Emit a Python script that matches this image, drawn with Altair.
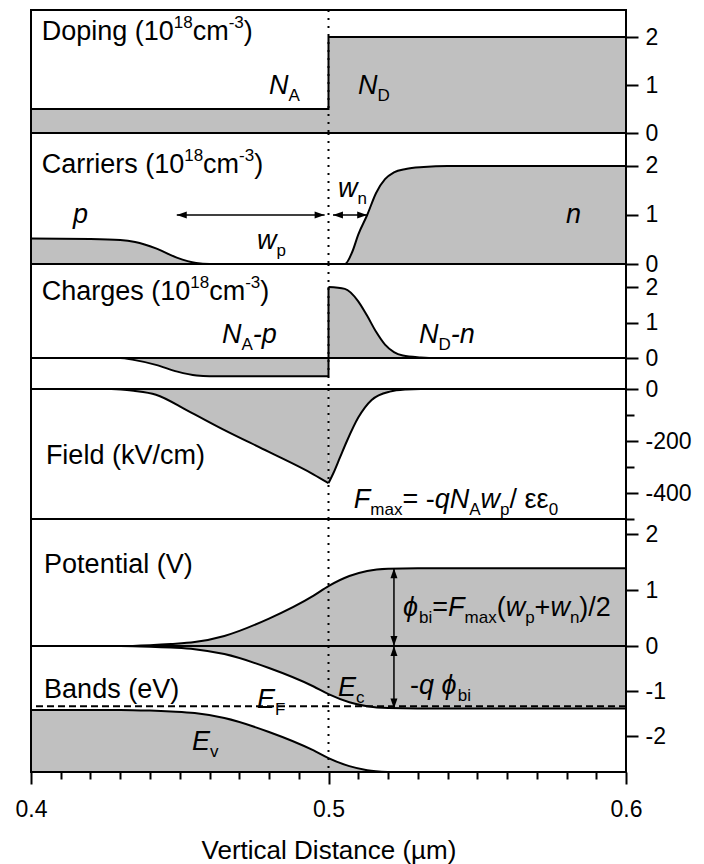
import altair as alt
import pandas as pd

FONT = "Liberation Sans"
GREY = "#c0c0c0"

X_MIN, X_MAX = 0.4, 0.6
JUNCTION = 0.5
W = 595
PX_PER_X = W / (X_MAX - X_MIN)

# ---------------- data ----------------
# Doping (1e18 cm^-3)
doping_x = [0.400, 0.500, 0.500, 0.600]
doping_y = [0.50, 0.50, 2.00, 2.00]

# Carriers (1e18 cm^-3)
p_x = [0.400, 0.420, 0.430, 0.435, 0.442, 0.449, 0.4555, 0.460, 0.500]
p_y = [0.52, 0.51, 0.49, 0.45, 0.32, 0.13, 0.02, 0.0, 0.0]
n_x = [0.500, 0.5055, 0.508, 0.510, 0.513, 0.516, 0.519, 0.522, 0.526, 0.532, 0.540, 0.600]
n_y = [0.0, 0.0, 0.25, 0.60, 1.00, 1.45, 1.73, 1.87, 1.94, 1.98, 2.00, 2.00]

# Charges (1e18 cm^-3)
qneg_x = [0.400, 0.430, 0.4345, 0.442, 0.4492, 0.4557, 0.460, 0.500]
qneg_y = [0.0, 0.0, -0.05, -0.19, -0.38, -0.49, -0.51, -0.51]
qpos_x = [0.500, 0.5055, 0.510, 0.513, 0.516, 0.519, 0.522, 0.525, 0.531, 0.536, 0.600]
qpos_y = [2.00, 1.95, 1.60, 1.19, 0.74, 0.38, 0.17, 0.075, 0.02, 0.0, 0.0]

# Field (kV/cm)
fl_x = [0.400, 0.427, 0.4345, 0.442, 0.4526, 0.4647, 0.4798, 0.4949, 0.500]
fl_y = [0, 0, -7, -22, -83, -156, -241, -328, -362]
fr_x = [0.500, 0.5017, 0.5039, 0.5062, 0.510, 0.5145, 0.5206, 0.526, 0.531, 0.600]
fr_y = [-362, -322, -262, -200, -110, -42, -10, -2, 0, 0]

# Potential (V)
pot_x = [0.400, 0.430, 0.440, 0.447, 0.455, 0.465, 0.480, 0.495, 0.500, 0.507, 0.513, 0.520, 0.530, 0.600]
pot_y = [0.0, 0.0, 0.015, 0.035, 0.07, 0.18, 0.49, 0.90, 1.07, 1.25, 1.34, 1.38, 1.39, 1.39]

# Bands (eV)
ec_x = [0.400, 0.430, 0.440, 0.447, 0.455, 0.465, 0.480, 0.495, 0.500, 0.507, 0.513, 0.520, 0.530, 0.600]
ec_y = [0.0, 0.0, -0.015, -0.035, -0.07, -0.18, -0.49, -0.90, -1.07, -1.25, -1.34, -1.38, -1.39, -1.39]
ev_x = [0.400, 0.430, 0.440, 0.447, 0.455, 0.465, 0.480, 0.495, 0.500, 0.507, 0.513, 0.520]
ev_y = [-1.42, -1.42, -1.435, -1.455, -1.49, -1.60, -1.91, -2.32, -2.49, -2.67, -2.76, -2.80]
EF_LEVEL = -1.34

# axis tick values / labels
x_major = [0.4, 0.5, 0.6]
x_minor = [round(0.4 + 0.01 * i, 2) for i in range(1, 20) if i != 10]
doping_ticks = [0, 1, 2]
carrier_ticks = [0, 1, 2]
charge_ticks = [0, 1, 2]
field_major = [0, -200, -400]
field_minor = [-100, -300, -500]
pot_ticks = [1, 2]
band_ticks = [0, -1, -2]

# panel geometry: (height px, y-domain)
P_DOP = (123, [0, 2.5625])
P_CAR = (131, [0, 2.673])
P_CHG = (125, [-0.87, 2.65])
P_FLD = (130, [-500, 0])
P_POT = (127, [0, 2.268])
P_BND = (126, [-2.8, 0])

TICK_FS = 23
M, S = 27, 17
SUB_PX, SUP_PX = 10, -9

WID = {" ": 0.278, "(": 0.333, ")": 0.333, "-": 0.333, "/": 0.278, "=": 0.584, "+": 0.584,
       ".": 0.278, "A": 0.667, "B": 0.667, "C": 0.722, "D": 0.722, "E": 0.667, "F": 0.611,
       "N": 0.722, "P": 0.667, "V": 0.667, "a": 0.556, "b": 0.556, "c": 0.5, "d": 0.556,
       "e": 0.556, "g": 0.556, "h": 0.556, "i": 0.222, "k": 0.5, "l": 0.222, "m": 0.833,
       "n": 0.556, "o": 0.556, "p": 0.556, "q": 0.556, "r": 0.333, "s": 0.5, "t": 0.278,
       "u": 0.556, "v": 0.5, "w": 0.722, "x": 0.5, "y": 0.5, "ϕ": 0.6, "ε": 0.45, "µ": 0.576}


def twidth(s, fs):
    return sum(WID.get(c, 0.556) for c in s) * fs


# ---------------- annotations (data coordinates) ----------------
LBL_DOP = [
    (0.4036, 2.10, [("Doping (10", "n"), ("18", "sup"), ("cm", "n"), ("-3", "sup"), (")", "n")]),
    (0.4800, 0.97, [("N", "i"), ("A", "sub")]),
    (0.5099, 0.97, [("N", "i"), ("D", "sub")]),
]
LBL_CAR = [
    (0.4036, 2.02, [("Carriers (10", "n"), ("18", "sup"), ("cm", "n"), ("-3", "sup"), (")", "n")]),
    (0.4141, 1.00, [("p", "i")]),
    (0.5798, 1.00, [("n", "i")]),
    (0.4760, 0.46, [("w", "i"), ("p", "sub")]),
    (0.5032, 1.53, [("w", "i"), ("n", "sub")]),
]
LBL_CHG = [
    (0.4036, 1.86, [("Charges (10", "n"), ("18", "sup"), ("cm", "n"), ("-3", "sup"), (")", "n")]),
    (0.4642, 0.64, [("N", "i"), ("A", "sub"), ("-p", "i")]),
    (0.5304, 0.64, [("N", "i"), ("D", "sub"), ("-n", "i")]),
]
LBL_FLD = [
    (0.4050, -258, [("Field (kV/cm)", "n")]),
    (0.5085, -427, [("F", "i"), ("max", "sub"), ("= -", "n"), ("q", "i"), ("N", "i"), ("A", "sub"),
                    ("w", "i"), ("p", "sub"), ("/ ", "n"), ("εε", "n"), ("0", "sub")]),
]
LBL_POT = [
    (0.4044, 1.45, [("Potential (V)", "n")]),
    (0.5250, 0.68, [("ϕ", "i"), ("bi", "sub"), ("=", "n"), ("F", "i"), ("max", "sub"), ("(", "n"),
                    ("w", "i"), ("p", "sub"), ("+", "n"), ("w", "i"), ("n", "sub"), (")/2", "n")]),
]
LBL_BND = [
    (0.4044, -0.98, [("Bands (eV)", "n")]),
    (0.5032, -0.93, [("E", "i"), ("c", "sub")]),
    (0.5274, -0.89, [("-", "n"), ("q", "i"), (" ", "n"), ("ϕ", "i"), ("bi", "sub")]),
    (0.4760, -1.19, [("E", "i"), ("F", "sub")]),
    (0.4541, -2.13, [("E", "i"), ("v", "sub")]),
]

WP_ARROW = (0.449, 0.4987, 1.0)
WN_ARROW = (0.5015, 0.513, 1.0)
PHI_ARROW = (0.522, 0.0, 1.39)
QPHI_ARROW = (0.522, 0.0, -1.39)

ARROW_R = "M0,0L-2,-0.7L-2,0.7Z"
ARROW_L = "M0,0L2,-0.7L2,0.7Z"
ARROW_U = "M0,0L-0.7,2L0.7,2Z"
ARROW_D = "M0,0L-0.7,-2L0.7,-2Z"


# ---------------- helpers ----------------
def X(axis=None):
    return alt.X("x:Q", scale=alt.Scale(domain=[X_MIN, X_MAX], nice=False, zero=False), axis=axis)


def Y(dom, axis=None, field="y:Q"):
    return alt.Y(field, scale=alt.Scale(domain=dom, nice=False, zero=False), axis=axis, stack=None)


def yaxis(values, labels=True, size=12):
    kw = dict(orient="right", values=values, tickSize=size, tickWidth=2, tickColor="black",
              domain=False, grid=False, title=None, labels=labels)
    if labels:
        kw.update(labelFont=FONT, labelFontSize=TICK_FS, labelColor="black", labelPadding=7,
                  labelExpr="toString(datum.value)", labelOverlap=False)
    return alt.Axis(**kw)


def area_line(xs, ys, dom, base=0, interp="monotone", axis=None, line_axis=None, xaxis=None, xaxis2=None):
    df = pd.DataFrame({"x": xs, "y": ys})
    area = alt.Chart(df).mark_area(color=GREY, opacity=1, interpolate=interp).encode(
        x=X(xaxis), y=Y(dom, axis), y2=alt.datum(base))
    line = alt.Chart(df).mark_line(color="black", strokeWidth=2, interpolate=interp).encode(
        x=X(xaxis2), y=Y(dom, line_axis))
    return [area, line]


def junction(h):
    return alt.Chart(pd.DataFrame({"x": [JUNCTION]})).mark_rule(
        color="black", strokeWidth=2, strokeDash=[2, 6]).encode(
        x=X(), y=alt.value(0), y2=alt.value(h))


def frame(h):
    return alt.Chart(pd.DataFrame({"f": [0]})).mark_rect(
        fillOpacity=0, stroke="black", strokeWidth=2).encode(
        x=alt.value(0), x2=alt.value(W), y=alt.value(0), y2=alt.value(h))


def head(x, y, shape, dom):
    return alt.Chart(pd.DataFrame({"x": [x], "y": [y]})).mark_point(
        shape=shape, filled=True, color="black", size=100, opacity=1, strokeWidth=0).encode(
        x=X(), y=Y(dom))


def harrow(spec, dom):
    x1, x2, y = spec
    rule = alt.Chart(pd.DataFrame({"x": [x1], "x2": [x2], "y": [y]})).mark_rule(
        color="black", strokeWidth=1.5).encode(x=X(), x2="x2:Q", y=Y(dom))
    return [rule, head(x1, y, ARROW_L, dom), head(x2, y, ARROW_R, dom)]


def varrow(spec, dom):
    x, y1, y2 = spec
    rule = alt.Chart(pd.DataFrame({"x": [x], "y": [y1], "y2": [y2]})).mark_rule(
        color="black", strokeWidth=1.5).encode(x=X(), y=Y(dom), y2="y2:Q")
    top, bot = max(y1, y2), min(y1, y2)
    return [rule, head(x, top, ARROW_U, dom), head(x, bot, ARROW_D, dom)]


def texts(labels, panel):
    h, dom = panel
    ppy = h / (dom[1] - dom[0])
    rows = []
    for x0, y0, pieces in labels:
        cur = 0.0
        for txt, kind in pieces:
            small = kind in ("sub", "sup")
            fs = S if small else M
            off = SUB_PX if kind == "sub" else (SUP_PX if kind == "sup" else 0)
            rows.append({"x": x0 + cur / PX_PER_X, "y": y0 - off / ppy, "text": txt,
                         "fs": fs, "st": "italic" if kind == "i" else "normal"})
            cur += twidth(txt, fs)
    df = pd.DataFrame(rows)
    out = []
    for (fs, st), g in df.groupby(["fs", "st"]):
        out.append(alt.Chart(g.reset_index(drop=True)).mark_text(
            align="left", baseline="middle", font=FONT, fontSize=int(fs), fontStyle=st,
            color="black").encode(x=X(), y=Y(dom), text="text:N"))
    return out


def hline(level, dom, dash=None):
    kw = dict(color="black", strokeWidth=2)
    if dash:
        kw["strokeDash"] = dash
    return alt.Chart(pd.DataFrame({"y": [level]})).mark_rule(**kw).encode(y=Y(dom))


# ---------------- panels ----------------
h, dom = P_DOP
doping = alt.layer(
    *area_line(doping_x, doping_y, dom, interp="linear", axis=yaxis(doping_ticks)),
    junction(h), *texts(LBL_DOP, P_DOP), frame(h)
).properties(width=W, height=h).resolve_axis(y="independent", x="independent")

h, dom = P_CAR
carriers = alt.layer(
    *area_line(p_x, p_y, dom, axis=yaxis(carrier_ticks)),
    *area_line(n_x, n_y, dom),
    junction(h), *harrow(WP_ARROW, dom), *harrow(WN_ARROW, dom), *texts(LBL_CAR, P_CAR), frame(h)
).properties(width=W, height=h).resolve_axis(y="independent", x="independent")

h, dom = P_CHG
join = alt.Chart(pd.DataFrame({"x": [JUNCTION], "y": [qneg_y[-1]], "y2": [qpos_y[0]]})).mark_rule(
    color="black", strokeWidth=2).encode(x=X(), y=Y(dom), y2="y2:Q")
charges = alt.layer(
    *area_line(qneg_x, qneg_y, dom, axis=yaxis(charge_ticks)),
    *area_line(qpos_x, qpos_y, dom),
    hline(0, dom), join, junction(h), *texts(LBL_CHG, P_CHG), frame(h)
).properties(width=W, height=h).resolve_axis(y="independent", x="independent")

h, dom = P_FLD
field = alt.layer(
    *area_line(fl_x, fl_y, dom, axis=yaxis(field_major), line_axis=yaxis(field_minor, labels=False, size=8)),
    *area_line(fr_x, fr_y, dom),
    junction(h), *texts(LBL_FLD, P_FLD), frame(h)
).properties(width=W, height=h).resolve_axis(y="independent", x="independent")

h, dom = P_POT
potential = alt.layer(
    *area_line(pot_x, pot_y, dom, axis=yaxis(pot_ticks)),
    junction(h), *varrow(PHI_ARROW, dom), *texts(LBL_POT, P_POT), frame(h)
).properties(width=W, height=h).resolve_axis(y="independent", x="independent")

x_major_axis = alt.Axis(
    orient="bottom", values=x_major, tickSize=12, tickWidth=2, tickColor="black", domain=False,
    grid=False, labelFont=FONT, labelFontSize=TICK_FS, labelColor="black", labelPadding=14,
    labelFlush=False, labelOverlap=False, labelExpr="format(datum.value, '.1f')",
    title="Vertical Distance (µm)", titleFont=FONT, titleFontSize=26, titleFontWeight="normal",
    titleColor="black", titlePadding=16)
x_minor_axis = alt.Axis(
    orient="bottom", values=x_minor, tickSize=7, tickWidth=2, tickColor="black", domain=False,
    grid=False, labels=False, title=None)

h, dom = P_BND
bands = alt.layer(
    *area_line(ec_x, ec_y, dom, axis=yaxis(band_ticks), xaxis=x_major_axis, xaxis2=x_minor_axis),
    *area_line(ev_x, ev_y, dom, base=dom[0]),
    hline(EF_LEVEL, dom, dash=[7, 4]),
    junction(h), *varrow(QPHI_ARROW, dom), *texts(LBL_BND, P_BND), frame(h)
).properties(width=W, height=h).resolve_axis(x="independent", y="independent")

chart = alt.vconcat(doping, carriers, charges, field, potential, bands, spacing=0).resolve_scale(
    y="independent"
).properties(
    bounds="flush", padding={"left": 6, "top": 0, "right": 0, "bottom": 0}
).configure(
    background="white", font=FONT
).configure_view(stroke="black", strokeWidth=2).configure_axis(grid=False)

chart.save("out.html", embed_options={"renderer": "svg", "actions": False})
